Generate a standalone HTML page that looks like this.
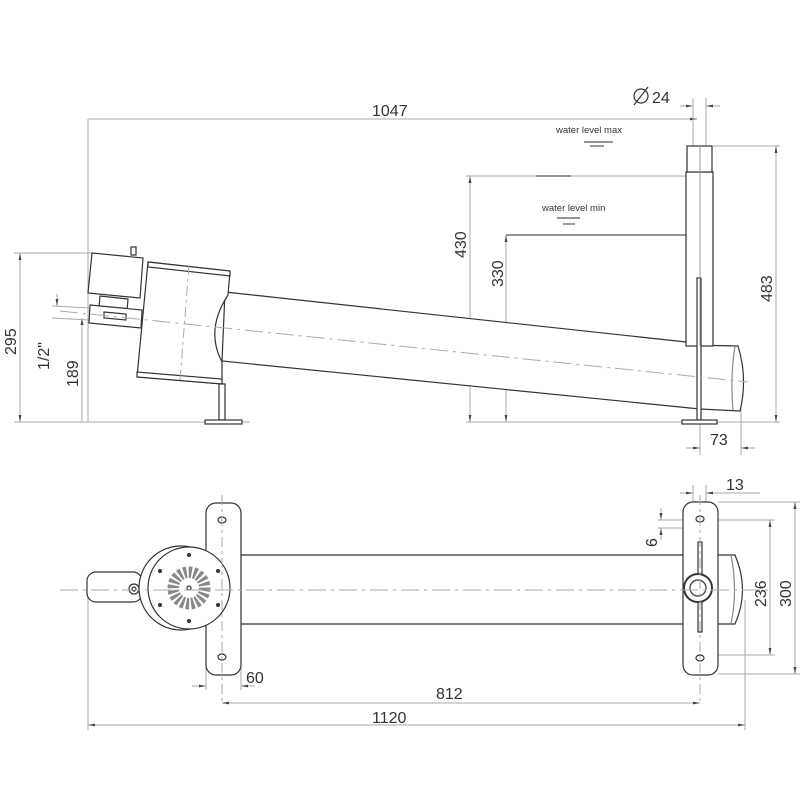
<!DOCTYPE html>
<html><head><meta charset="utf-8"><style>
html,body{margin:0;padding:0;background:#fff}
svg{display:block}
text{font-family:"Liberation Sans",sans-serif;fill:#333}
</style></head><body>
<svg width="800" height="800" viewBox="0 0 800 800" xmlns="http://www.w3.org/2000/svg">
<defs>
<marker id="a" viewBox="0 0 10 10" refX="10" refY="5" markerWidth="7" markerHeight="7" orient="auto-start-reverse"><path d="M0,3 L10,5 L0,7 z" fill="#444"/></marker>
</defs>
<g fill="none" stroke="#aaa" stroke-width="1">
<line x1="88" y1="119" x2="697" y2="119" marker-end="url(#a)"/>
<line x1="88" y1="119" x2="88" y2="422"/>
<line x1="693" y1="98" x2="693" y2="146"/><line x1="706" y1="98" x2="706" y2="146"/>
<line x1="680" y1="106" x2="693" y2="106" marker-end="url(#a)"/><line x1="720" y1="106" x2="706" y2="106" marker-end="url(#a)"/>
<line x1="466" y1="176" x2="697" y2="176"/>
<line x1="470" y1="176" x2="470" y2="422" marker-start="url(#a)" marker-end="url(#a)"/>
<line x1="506" y1="235" x2="506" y2="422" marker-start="url(#a)" marker-end="url(#a)"/>
<line x1="713" y1="146" x2="780" y2="146"/>
<line x1="776" y1="146" x2="776" y2="422" marker-start="url(#a)" marker-end="url(#a)"/>
<line x1="466" y1="422" x2="780" y2="422"/>
<line x1="14" y1="422" x2="250" y2="422"/>
<line x1="14" y1="253" x2="92" y2="253"/>
<line x1="20" y1="253" x2="20" y2="422" marker-start="url(#a)" marker-end="url(#a)"/>
<line x1="82" y1="318" x2="82" y2="422" marker-start="url(#a)"/>
<line x1="52" y1="306" x2="90" y2="308"/><line x1="52" y1="318" x2="90" y2="320"/>
<line x1="57" y1="294" x2="57" y2="306" marker-end="url(#a)"/>
<line x1="700" y1="400" x2="700" y2="455"/><line x1="741" y1="380" x2="741" y2="455"/>
<line x1="686" y1="448" x2="700" y2="448" marker-end="url(#a)"/><line x1="755" y1="448" x2="741" y2="448" marker-end="url(#a)"/>
<line x1="88" y1="590" x2="88" y2="730"/><line x1="745" y1="600" x2="745" y2="730"/>
<line x1="206" y1="650" x2="206" y2="690"/><line x1="241" y1="650" x2="241" y2="690"/>
<line x1="192" y1="686" x2="206" y2="686" marker-end="url(#a)"/><line x1="255" y1="686" x2="241" y2="686" marker-end="url(#a)"/>
<line x1="222" y1="703" x2="700" y2="703" marker-start="url(#a)" marker-end="url(#a)"/>
<line x1="88" y1="725" x2="745" y2="725" marker-start="url(#a)" marker-end="url(#a)"/>
<line x1="693" y1="485" x2="693" y2="505"/><line x1="706" y1="485" x2="706" y2="505"/>
<line x1="680" y1="493" x2="693" y2="493" marker-end="url(#a)"/><line x1="760" y1="493" x2="706" y2="493" marker-end="url(#a)"/>
<line x1="718" y1="502" x2="800" y2="502"/><line x1="718" y1="674" x2="800" y2="674"/>
<line x1="658" y1="520" x2="775" y2="520"/><line x1="658" y1="528" x2="705" y2="528"/><line x1="700" y1="655" x2="775" y2="655"/>
<line x1="661" y1="508" x2="661" y2="520" marker-end="url(#a)"/><line x1="661" y1="540" x2="661" y2="528" marker-end="url(#a)"/>
<line x1="770" y1="520" x2="770" y2="655" marker-start="url(#a)" marker-end="url(#a)"/>
<line x1="795" y1="502" x2="795" y2="674" marker-start="url(#a)" marker-end="url(#a)"/>
</g>
<g stroke="#555" stroke-width="1.2">
<line x1="584" y1="142" x2="613" y2="142"/><line x1="590" y1="146" x2="604" y2="146"/>
<line x1="536" y1="176" x2="571" y2="176"/>
<line x1="557" y1="218" x2="580" y2="218"/><line x1="563" y1="224" x2="575" y2="224"/>
<line x1="506" y1="235" x2="700" y2="235"/>
</g>
<g fill="#fff" stroke="#333" stroke-width="1.2">
<path d="M225,292 L686,342 L690,345 L738,346 Q748,378 740,411 L700,409 L222,361 Z"/>
<path d="M735,346 Q730,378 733,410" fill="none" stroke="#888"/>
<rect x="686" y="172" width="27" height="174"/>
<rect x="687" y="146" width="25" height="26"/>
<rect x="697" y="278" width="4" height="142"/>
<rect x="682" y="420" width="35" height="4"/>
<path d="M148,262 L230,271 L228,295 Q205,330 222,362 L222,384 L137,377 Z"/>
<path d="M148,262 L230,271 L230,276 L148,267 Z"/>
<path d="M137,377 L222,384 L222,379 L137,372 Z"/>
<path d="M219,384 L225,384 L225,420 L219,420 Z"/>
<rect x="205" y="420" width="37" height="4"/>
<path d="M92,253 L143,258 L140,298 L88,293 Z"/>
<rect x="131" y="247" width="5" height="8"/>
<path d="M100,296 L128,299 L127,311 L99,308 Z"/>
<path d="M90,305 L142,310 L141,328 L89,323 Z"/>
<path d="M104,312 L126,314 L126,320 L104,318 Z"/>
</g>
<g fill="#fff" stroke="#333" stroke-width="1.2">
<path d="M230,555 L735,555 Q750,590 735,624 L230,624 Z"/>
<path d="M731,555 Q738,590 731,624" fill="none" stroke="#888"/>
<rect x="206" y="503" width="35" height="172" rx="10"/>
<ellipse cx="222" cy="520" rx="4" ry="3"/><ellipse cx="222" cy="657" rx="4" ry="3"/>
<rect x="683" y="502" width="35" height="173" rx="10"/>
<ellipse cx="700" cy="519" rx="4" ry="3"/><ellipse cx="700" cy="658" rx="4" ry="3"/>
<rect x="698" y="542" width="4" height="90"/>
<rect x="87" y="572" width="55" height="30" rx="9"/>
<circle cx="134" cy="589" r="5"/><circle cx="134" cy="589" r="2"/>
<circle cx="181" cy="588" r="42"/>
<circle cx="189" cy="588" r="41"/>
<circle cx="189" cy="588" r="16" fill="none" stroke="#888" stroke-width="12" stroke-dasharray="3,2"/>
<circle cx="189" cy="588" r="22" fill="none" stroke="#fff" stroke-width="1"/>
<circle cx="189" cy="588" r="2"/>
</g>
<g fill="#333">
<circle cx="189" cy="555" r="2"/><circle cx="189" cy="621" r="2"/>
<circle cx="218" cy="571" r="2"/><circle cx="218" cy="605" r="2"/>
<circle cx="160" cy="571" r="2"/><circle cx="160" cy="605" r="2"/>
</g>
<g fill="#fff" stroke="#333" stroke-width="1.2">
<circle cx="698" cy="588" r="14" stroke-width="2"/><circle cx="698" cy="588" r="8"/>
</g>
<!-- centerlines on top -->
<g fill="none" stroke="#aaa" stroke-width="1">
<line x1="700" y1="146" x2="700" y2="346" stroke="#999"/>
<line x1="60" y1="311" x2="748" y2="382" stroke-dasharray="18,5,3,5"/>
<line x1="189" y1="265" x2="180" y2="380" stroke-dasharray="10,4,3,4"/>
<line x1="60" y1="590" x2="770" y2="590" stroke-dasharray="18,5,3,5"/>
<line x1="222" y1="495" x2="222" y2="703" stroke-dasharray="10,4,3,4"/>
<line x1="700" y1="495" x2="700" y2="703" stroke-dasharray="10,4,3,4"/>
</g>
<circle cx="641" cy="96" r="7" fill="none" stroke="#333" stroke-width="1.2"/>
<line x1="634" y1="105" x2="648" y2="87" stroke="#333" stroke-width="1.2"/>
<g font-size="16">
<text x="372" y="116">1047</text>
<text x="652" y="103">24</text>
<text x="372" y="723">1120</text>
<text x="436" y="699">812</text>
<text x="246" y="683">60</text>
<text x="726" y="490">13</text>
<text x="710" y="445">73</text>
</g>
<g font-size="9.5"><text x="556" y="133">water level max</text><text x="542" y="211">water level min</text></g>
<g font-size="16">
<text transform="translate(466,258) rotate(-90)">430</text>
<text transform="translate(503,287) rotate(-90)">330</text>
<text transform="translate(772,302) rotate(-90)">483</text>
<text transform="translate(16,355) rotate(-90)">295</text>
<text transform="translate(78,387) rotate(-90)">189</text>
<text transform="translate(49,370) rotate(-90)">1/2"</text>
<text transform="translate(657,547) rotate(-90)">6</text>
<text transform="translate(766,607) rotate(-90)">236</text>
<text transform="translate(791,607) rotate(-90)">300</text>
</g>
</svg>
</body></html>
